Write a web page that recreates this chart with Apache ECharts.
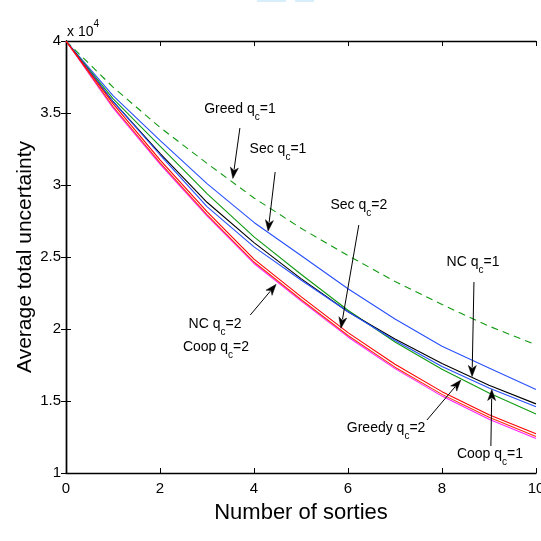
<!DOCTYPE html>
<html>
<head>
<meta charset="utf-8">
<title>Average total uncertainty vs number of sorties</title>
<script src="https://cdn.jsdelivr.net/npm/echarts/dist/echarts.min.js"></script>
<style>
  html, body { margin: 0; padding: 0; background: #fff; overflow: hidden; width: 541px; height: 541px; }
  #chart { width: 541px; height: 541px; }
</style>
</head>
<body>
<div id="chart"></div>
<script>
// Number of sorties (x axis)
const sorties = [0, 1, 2, 3, 4, 5, 6, 7, 8, 9, 10];

// Average total uncertainty per strategy
const greedyQ1 = [40000, 36800, 34000, 31500, 29100, 27000, 25100, 23300, 21700, 20200, 18900];
const secQ1    = [40000, 36200, 33100, 30100, 27400, 25100, 22800, 20700, 18800, 17300, 15800];
const greedyQ2 = [40000, 36000, 32700, 29400, 26400, 23800, 21300, 19100, 17200, 15550, 14100];
const ncQ1     = [40000, 35800, 32200, 28800, 26000, 23500, 21200, 19300, 17600, 16100, 14800];
const coopQ1   = [40000, 35800, 32100, 28500, 25700, 23400, 21200, 19200, 17400, 15900, 14600];
const secQ2    = [40000, 35650, 31750, 28150, 24850, 22250, 19750, 17550, 15650, 14050, 12720];
const ncQ2     = [40000, 35450, 31550, 27950, 24650, 22050, 19550, 17350, 15460, 13870, 12540];
const coopQ2   = [40000, 35350, 31450, 27850, 24550, 21950, 19450, 17250, 15340, 13740, 12400];

// Axis ticks
const xTicks = { min: 0, max: 10, step: 2 };
const yTicks = { min: 10000, max: 40000, step: 5000 };

const FONT = '"Liberation Sans", Arial, Helvetica, sans-serif';

function pairs(values) {
  return sorties.map((s, i) => [s, values[i]]);
}

function lineSeries(name, values, color, dashed) {
  return {
    name: name,
    type: 'line',
    data: pairs(values),
    showSymbol: false,
    symbol: 'none',
    smooth: false,
    silent: true,
    lineStyle: { color: color, width: 1.1, type: dashed ? [7, 5] : 'solid' },
    z: 3
  };
}

const chart = echarts.init(document.getElementById('chart'), null, { renderer: 'canvas', width: 541, height: 541 });

const axisLine = { show: true, lineStyle: { color: '#000', width: 1.4 } };
const axisTick = { show: true, inside: true, length: 5, lineStyle: { color: '#000', width: 1 } };

chart.setOption({
  animation: false,
  backgroundColor: '#fff',
  grid: { left: 66, right: 5, top: 41, bottom: 68, containLabel: false, outerBoundsMode: 'none' },
  xAxis: [
    {
      type: 'value', position: 'bottom',
      min: xTicks.min, max: xTicks.max, interval: xTicks.step,
      axisLine: axisLine, axisTick: axisTick,
      splitLine: { show: false },
      axisLabel: { color: '#000', fontSize: 15, fontFamily: FONT, margin: 8 },
      name: 'Number of sorties', nameLocation: 'middle', nameGap: 29,
      nameTextStyle: { color: '#000', fontSize: 22, fontFamily: FONT }
    },
    {
      type: 'value', position: 'top',
      min: xTicks.min, max: xTicks.max, interval: xTicks.step,
      axisLine: axisLine, axisTick: axisTick,
      splitLine: { show: false }, axisLabel: { show: false }
    }
  ],
  yAxis: [
    {
      type: 'value', position: 'left',
      min: yTicks.min, max: yTicks.max, interval: yTicks.step,
      axisLine: axisLine, axisTick: axisTick,
      splitLine: { show: false },
      axisLabel: {
        color: '#000', fontSize: 15, fontFamily: FONT, margin: 5,
        formatter: v => String(v / 10000)
      }
    },
    {
      type: 'value', position: 'right',
      min: yTicks.min, max: yTicks.max, interval: yTicks.step,
      axisLine: axisLine, axisTick: axisTick,
      splitLine: { show: false }, axisLabel: { show: false }
    }
  ],
  series: [
    lineSeries('Greedy q_c=1', greedyQ1, '#109a10', true),
    lineSeries('Sec q_c=1', secQ1, '#2850ff', false),
    lineSeries('Greedy q_c=2', greedyQ2, '#109a10', false),
    lineSeries('NC q_c=1', ncQ1, '#000000', false),
    lineSeries('Coop q_c=1', coopQ1, '#2850ff', false),
    lineSeries('Coop q_c=2', coopQ2, '#ff22ff', false),
    lineSeries('NC q_c=2', ncQ2, '#ff3010', false),
    lineSeries('Sec q_c=2', secQ2, '#ff0000', false)
  ]
});

// Annotation callouts, anchored in data coordinates: label parts, text centre, arrow start, arrow tip
const callouts = [
  { parts: ['Greed q', 'c', '=1'],  at: [3.70, 35070], from: [3.70, 33960], to: [3.55, 30450] },
  { parts: ['Sec q', 'c', '=1'],    at: [4.51, 32290], from: [4.45, 30900], to: [4.30, 26800] },
  { parts: ['Sec q', 'c', '=2'],    at: [6.23, 28400], from: [6.23, 27220], to: [5.85, 20050] },
  { parts: ['NC q', 'c', '=1'],     at: [8.66, 24440], from: [8.68, 23260], to: [8.64, 16700] },
  { parts: ['NC q', 'c', '=2'],     at: [3.17, 20140], from: [3.92, 20970], to: [4.47, 23100] },
  { parts: ['Coop q', 'c', '=2'],   at: [3.19, 18540], from: null, to: null },
  { parts: ['Greedy q', 'c', '=2'], at: [6.81, 12920], from: [7.68, 13680], to: [8.40, 16450] },
  { parts: ['Coop q', 'c', '=1'],   at: [9.02, 11110], from: [9.04, 11875], to: [9.06, 15800] }
];

function arrowGraphics(p0, p1) {
  const dx = p1[0] - p0[0], dy = p1[1] - p0[1];
  const len = Math.sqrt(dx * dx + dy * dy);
  const ux = dx / len, uy = dy / len;
  const headLen = 11, headHalf = 4;
  const bx = p1[0] - ux * headLen, by = p1[1] - uy * headLen;
  const nx = -uy, ny = ux;
  return [
    {
      type: 'line', silent: true, z: 10,
      shape: { x1: p0[0], y1: p0[1], x2: bx + ux * 2, y2: by + uy * 2 },
      style: { stroke: '#000', lineWidth: 1 }
    },
    {
      type: 'polygon', silent: true, z: 10,
      shape: { points: [[p1[0], p1[1]], [bx + nx * headHalf, by + ny * headHalf], [bx + ux * 3, by + uy * 3], [bx - nx * headHalf, by - ny * headHalf]] },
      style: { fill: '#000', stroke: '#000', lineWidth: 0.5 }
    }
  ];
}

const toPx = pt => chart.convertToPixel({ xAxisIndex: 0, yAxisIndex: 0 }, pt);

const graphics = [];
callouts.forEach(c => {
  const p = toPx(c.at);
  graphics.push({
    type: 'text', silent: true, z: 11,
    x: p[0], y: p[1],
    style: {
      text: '{m|' + c.parts[0] + '}{s|' + c.parts[1] + '}{m|' + c.parts[2] + '}',
      align: 'center', verticalAlign: 'middle',
      rich: {
        m: { fontSize: 14, fontFamily: FONT, fill: '#000', verticalAlign: 'top', lineHeight: 18 },
        s: { fontSize: 10, fontFamily: FONT, fill: '#000', verticalAlign: 'bottom', lineHeight: 20 }
      }
    }
  });
  if (c.from && c.to) {
    arrowGraphics(toPx(c.from), toPx(c.to)).forEach(g => graphics.push(g));
  }
});

// exponent marker above the top-left corner of the y axis
const corner = toPx([xTicks.min, yTicks.max]);
graphics.push({
  type: 'text', silent: true,
  x: corner[0] + 1, y: corner[1] - 12,
  style: {
    text: '{m|x 10}{p|4}',
    align: 'left', verticalAlign: 'middle',
    rich: {
      m: { fontSize: 14, fontFamily: FONT, fill: '#000', verticalAlign: 'bottom', lineHeight: 20 },
      p: { fontSize: 10, fontFamily: FONT, fill: '#000', verticalAlign: 'top', lineHeight: 20 }
    }
  }
});

// faint strips along the top edge
graphics.push({ type: 'rect', silent: true, shape: { x: 257, y: 0, width: 29, height: 2 }, style: { fill: '#d9eefb' } });
graphics.push({ type: 'rect', silent: true, shape: { x: 295, y: 0, width: 19, height: 2 }, style: { fill: '#d9eefb' } });

// y-axis title
graphics.push({
  type: 'text', silent: true,
  x: 25, y: 257, rotation: Math.PI / 2,
  style: {
    text: 'Average total uncertainty',
    fontSize: 21, fontFamily: FONT, fill: '#000',
    align: 'center', verticalAlign: 'middle'
  }
});

chart.setOption({ graphic: graphics });
</script>
</body>
</html>
